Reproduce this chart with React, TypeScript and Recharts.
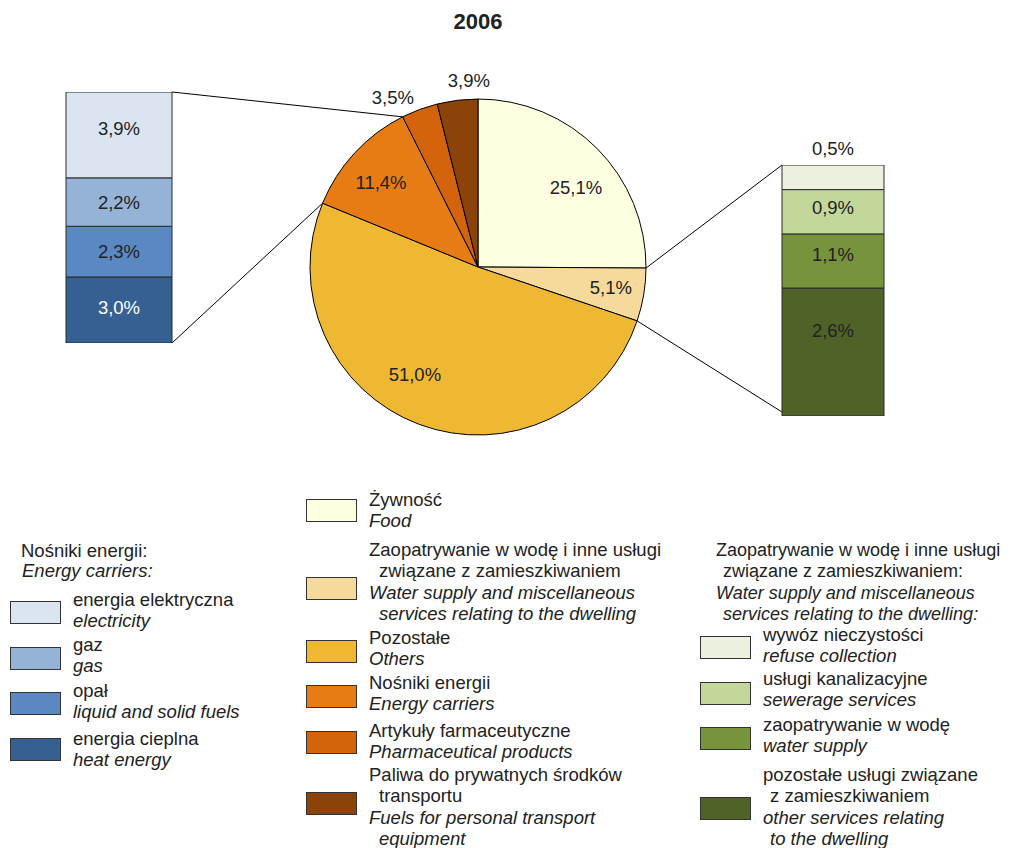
import React from 'react';
import { PieChart, Pie, Cell, BarChart, Bar, XAxis, YAxis, LabelList } from 'recharts';

// --- data ---
const title = '2006';

const pieNames = [
  'Żywność',
  'Zaopatrywanie w wodę i inne usługi związane z zamieszkiwaniem',
  'Pozostałe',
  'Nośniki energii',
  'Artykuły farmaceutyczne',
  'Paliwa do prywatnych środków transportu',
];
const pieValues = [25.1, 5.1, 51.0, 11.4, 3.5, 3.9];
const pieColors = ['#FFFFE1', '#F6DA9B', '#EEB833', '#E67C13', '#D3640C', '#8B4309'];

// stacked bars, listed bottom to top
const energyKeys = ['heat', 'fuels', 'gas', 'electricity'];
const energyValues = [3.0, 2.3, 2.2, 3.9];
const energyColors = ['#366092', '#5A88C2', '#95B3D7', '#DBE5F1'];

const waterKeys = ['other', 'water', 'sewerage', 'refuse'];
const waterValues = [2.6, 1.1, 0.9, 0.5];
const waterColors = ['#4F6228', '#77933C', '#C4D79B', '#EBF1DE'];

const pieLegendPl = [
  ['Żywność'],
  ['Zaopatrywanie w wodę i inne usługi', 'związane z zamieszkiwaniem'],
  ['Pozostałe'],
  ['Nośniki energii'],
  ['Artykuły farmaceutyczne'],
  ['Paliwa do prywatnych środków', 'transportu'],
];
const pieLegendEn = [
  ['Food'],
  ['Water supply and miscellaneous', 'services relating to the dwelling'],
  ['Others'],
  ['Energy carriers'],
  ['Pharmaceutical products'],
  ['Fuels for personal transport', 'equipment'],
];

const energyHeader = ['Nośniki energii:', 'Energy carriers:'];
const energyLegendPl = ['energia elektryczna', 'gaz', 'opał', 'energia cieplna'];
const energyLegendEn = ['electricity', 'gas', 'liquid and solid fuels', 'heat energy'];

const waterHeaderPl = ['Zaopatrywanie w wodę i inne usługi', 'związane z zamieszkiwaniem:'];
const waterHeaderEn = ['Water supply and miscellaneous', 'services relating to the dwelling:'];
const waterLegendPl = [['wywóz nieczystości'], ['usługi kanalizacyjne'], ['zaopatrywanie w wodę'], ['pozostałe usługi związane', 'z zamieszkiwaniem']];
const waterLegendEn = [['refuse collection'], ['sewerage services'], ['water supply'], ['other services relating', 'to the dwelling']];

// --- layout (container coords = page - 8px body margin) ---
const FONT = '"Liberation Sans", Arial, Helvetica, sans-serif';
const FS = 18.5;
const TXT = '#222';
const CX = 470;
const CY = 259;
const R = 168;
const LEFT_BAR = { x: 58, y: 84, w: 106, h: 251 };
const RIGHT_BAR = { x: 774, y: 157, w: 102, h: 251 };
const TOP_PAD = 30;
const LH = 21.3;

// label placement per slice: radius factor and angle nudge (deg)
const labelPlace = [
  { r: 0.753, da: -5.6 },
  { r: 0.8, da: 0.9 },
  { r: 0.744, da: -9.8 },
  { r: 0.764, da: 1.9 },
  { r: 1.131, da: 6.3 },
  { r: 1.114, da: -4.2 },
];
// vertical nudges for the bar segment labels (bottom to top)
const energyLabelDy = [-2, 0, 0, -6];
const waterLabelDy = [-22, -6, -4, 0];

const fmt = (v: number) => v.toFixed(1).replace('.', ',') + '%';
const RAD = Math.PI / 180;
const polar = (cx: number, cy: number, r: number, a: number) => ({
  x: cx + r * Math.cos(-a * RAD),
  y: cy + r * Math.sin(-a * RAD),
});

const pieData = pieNames.map((name, i) => ({ name, value: pieValues[i] }));

const renderPieLabel = (p: any) => {
  const { cx, cy, outerRadius, midAngle, startAngle, endAngle, index } = p;
  const pl = labelPlace[index];
  const pos = polar(cx, cy, outerRadius * pl.r, midAngle + pl.da);
  const lines: React.ReactNode[] = [];
  if (index === 3) {
    const a = polar(cx, cy, outerRadius, endAngle);
    const b = polar(cx, cy, outerRadius, startAngle);
    lines.push(<line key="t" x1={a.x} y1={a.y} x2={LEFT_BAR.x + LEFT_BAR.w} y2={LEFT_BAR.y} stroke="#000" strokeWidth={1} />);
    lines.push(<line key="b" x1={b.x} y1={b.y} x2={LEFT_BAR.x + LEFT_BAR.w} y2={LEFT_BAR.y + LEFT_BAR.h} stroke="#000" strokeWidth={1} />);
  }
  if (index === 1) {
    const a = polar(cx, cy, outerRadius, startAngle);
    const b = polar(cx, cy, outerRadius, endAngle);
    lines.push(<line key="t" x1={a.x} y1={a.y} x2={RIGHT_BAR.x} y2={RIGHT_BAR.y} stroke="#000" strokeWidth={1} />);
    lines.push(<line key="b" x1={b.x} y1={b.y} x2={RIGHT_BAR.x} y2={RIGHT_BAR.y + RIGHT_BAR.h - 4} stroke="#000" strokeWidth={1} />);
  }
  return (
    <g>
      {lines}
      <text x={pos.x} y={pos.y} textAnchor="middle" dominantBaseline="central" fontSize={FS} fontFamily={FONT} fill={TXT}>
        {fmt(pieValues[index])}
      </text>
    </g>
  );
};

function StackBar({ box, keys, values, colors, whiteIdx, topOutside, labelDy }: any) {
  const row: any = { name: 'x' };
  keys.forEach((k: string, i: number) => (row[k] = values[i]));
  const total = values.reduce((s: number, v: number) => s + v, 0);
  const w = box.w + 2;
  const h = box.h + TOP_PAD + 1;
  return (
    <div style={{ position: 'absolute', left: box.x - 1, top: box.y - TOP_PAD, width: w, height: h }}>
      <BarChart width={w} height={h} data={[row]} margin={{ top: TOP_PAD, right: 1, bottom: 1, left: 1 }} barCategoryGap={0}>
        <XAxis dataKey="name" hide />
        <YAxis hide type="number" domain={[0, total]} allowDataOverflow />
        {keys.map((k: string, i: number) => (
          <Bar key={k} dataKey={k} stackId="s" fill={colors[i]} stroke="#2a2a2a" strokeWidth={1} isAnimationActive={false}>
            <LabelList
              dataKey={k}
              content={(lp: any) => {
                const outside = topOutside && i === keys.length - 1;
                const ty = outside ? lp.y - 17 : lp.y + lp.height / 2 + labelDy[i];
                return (
                  <text x={lp.x + lp.width / 2} y={ty} textAnchor="middle" dominantBaseline="central" fontSize={FS} fontFamily={FONT} fill={i === whiteIdx ? '#fff' : TXT}>
                    {fmt(values[i])}
                  </text>
                );
              }}
            />
          </Bar>
        ))}
      </BarChart>
    </div>
  );
}

function Line({ x, cy, text, italic, fs = FS }: { x: number; cy: number; text: string; italic?: boolean; fs?: number }) {
  return (
    <div style={{ position: 'absolute', left: x - 8, top: cy - 8 - 11, height: 22, lineHeight: '22px', fontSize: fs, fontStyle: italic ? 'italic' : 'normal', whiteSpace: 'nowrap', color: TXT }}>
      {text}
    </div>
  );
}

function Swatch({ x, y, color }: { x: number; y: number; color: string }) {
  return <div style={{ position: 'absolute', left: x - 8, top: y - 8, width: 51, height: 23, background: color, border: '1px solid #333', boxSizing: 'border-box' }} />;
}

function Block({ x, cy, pl, en, indent, fs = FS }: { x: number; cy: number; pl: string[]; en: string[]; indent: number; fs?: number }) {
  const all = [...pl.map((t, i) => ({ t, it: false, ind: i > 0 })), ...en.map((t, i) => ({ t, it: true, ind: i > 0 }))];
  return (
    <>
      {all.map((l, i) => (
        <Line key={i} x={x + (l.ind ? indent : 0)} cy={cy + i * LH} text={l.t} italic={l.it} fs={fs} />
      ))}
    </>
  );
}

// legend placement (page coords)
const midTextY = [500, 550, 638, 683, 731, 775];
const midBoxY = [499, 577, 640, 685, 731, 792];
const leftTextY = [600, 645, 691, 739];
const leftBoxY = [601, 647, 692, 738];
const rightTextY = [635, 679, 725, 775];
const rightBoxY = [636, 682, 727, 797];

export default function App() {
  const energyLegendColors = [...energyColors].reverse();
  const waterLegendColors = [...waterColors].reverse();
  return (
    <div style={{ position: 'relative', width: 994, height: 840, fontFamily: FONT, background: '#fff' }}>
      <div style={{ position: 'absolute', left: CX - 60, top: 1, width: 120, textAlign: 'center', fontSize: 22, lineHeight: '26px', fontWeight: 'bold', color: TXT }}>
        {title}
      </div>

      <div style={{ position: 'absolute', left: 0, top: 0 }}>
        <PieChart width={994} height={460} margin={{ top: 0, right: 0, bottom: 0, left: 0 }}>
          <Pie
            data={pieData}
            dataKey="value"
            nameKey="name"
            cx={CX}
            cy={CY}
            outerRadius={R}
            startAngle={90}
            endAngle={-270}
            stroke="#000"
            strokeWidth={1}
            labelLine={false}
            label={renderPieLabel}
            isAnimationActive={false}
          >
            {pieData.map((d, i) => (
              <Cell key={d.name} fill={pieColors[i]} />
            ))}
          </Pie>
        </PieChart>
      </div>

      <StackBar box={LEFT_BAR} keys={energyKeys} values={energyValues} colors={energyColors} whiteIdx={0} topOutside={false} labelDy={energyLabelDy} />
      <StackBar box={RIGHT_BAR} keys={waterKeys} values={waterValues} colors={waterColors} whiteIdx={-1} topOutside labelDy={waterLabelDy} />

      {/* left legend: energy carriers */}
      <Line x={21} cy={551} text={energyHeader[0]} />
      <Line x={22} cy={571} text={energyHeader[1]} italic />
      {energyLegendPl.map((t, i) => (
        <React.Fragment key={t}>
          <Swatch x={10} y={leftBoxY[i]} color={energyLegendColors[i]} />
          <Block x={73} cy={leftTextY[i]} pl={[t]} en={[energyLegendEn[i]]} indent={0} />
        </React.Fragment>
      ))}

      {/* middle legend: pie */}
      {pieLegendPl.map((pl, i) => (
        <React.Fragment key={i}>
          <Swatch x={306} y={midBoxY[i]} color={pieColors[i]} />
          <Block x={369} cy={midTextY[i]} pl={pl} en={pieLegendEn[i]} indent={10} />
        </React.Fragment>
      ))}

      {/* right legend: water supply */}
      <Block x={716} cy={550} pl={waterHeaderPl} en={waterHeaderEn} indent={7} fs={18} />
      {waterLegendPl.map((pl, i) => (
        <React.Fragment key={i}>
          <Swatch x={700} y={rightBoxY[i]} color={waterLegendColors[i]} />
          <Block x={763} cy={rightTextY[i]} pl={pl} en={waterLegendEn[i]} indent={7} />
        </React.Fragment>
      ))}
    </div>
  );
}
